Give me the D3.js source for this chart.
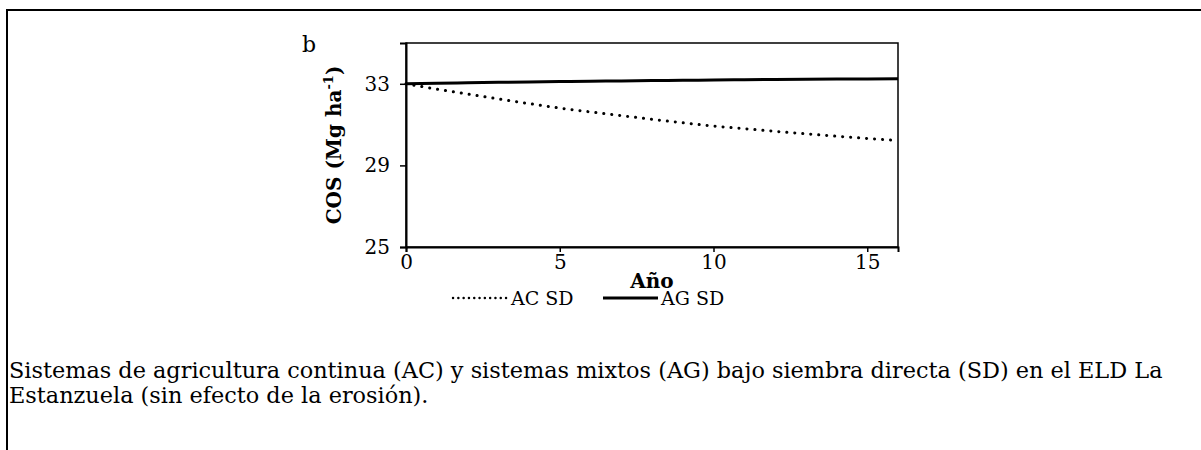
<!DOCTYPE html>
<html><head><meta charset="utf-8">
<script src="https://cdn.jsdelivr.net/npm/d3@7"></script>
<style>body{margin:0;background:#fff}svg{display:block}text{font-family:"DejaVu Serif",serif;fill:#000}</style>
</head><body>
<svg id="c" width="1201" height="450"></svg>
<script>
const years = [0,1,2,3,4,5,6,7,8,9,10,11,12,13,14,15,16];
const acSD = [33.00,32.74,32.50,32.26,32.03,31.81,31.62,31.44,31.26,31.09,30.93,30.80,30.67,30.55,30.43,30.32,30.22];
const agSD = [33.00,33.03,33.05,33.07,33.09,33.11,33.13,33.14,33.16,33.17,33.19,33.20,33.21,33.22,33.23,33.24,33.25];
const xTicks = [0,5,10,15];
const yTicks = [25,29,33];
const seriesNames = ["AC SD","AG SD"];
const panelLabel = "b";
const xTitle = "Año";
const captionLines = ["Sistemas de agricultura continua (AC) y sistemas mixtos (AG) bajo siembra directa (SD) en el ELD La","Estanzuela (sin efecto de la erosión)."];

const svg = d3.select("#c");
svg.append("line").attr("x1",7).attr("x2",1201).attr("y1",10).attr("y2",10).attr("stroke","#000").attr("stroke-width",2);
svg.append("line").attr("x1",7).attr("x2",7).attr("y1",9).attr("y2",450).attr("stroke","#000").attr("stroke-width",2);

const L=406,R=898,T=43,B=247;
const x = d3.scaleLinear().domain([0,16]).range([L,R]);
const y = d3.scaleLinear().domain([25,35]).range([B,T]);

svg.append("rect").attr("x",L).attr("y",T).attr("width",R-L).attr("height",B-T).attr("fill","none").attr("stroke","#000").attr("stroke-width",1.5);

const gx = svg.append("g").attr("transform",`translate(0,${B})`).call(d3.axisBottom(x).tickValues(xTicks).tickSize(5).tickPadding(3).tickFormat(d3.format("d")));
const gy = svg.append("g").attr("transform",`translate(${L},0)`).call(d3.axisLeft(y).tickValues(yTicks).tickSize(6).tickPadding(10).tickFormat(d3.format("d")));
[gx,gy].forEach(g=>{
  g.select(".domain").attr("stroke","#000").attr("stroke-width",2);
  g.selectAll(".tick line").attr("stroke","#000").attr("stroke-width",1.5);
  g.selectAll(".tick text").attr("font-family","DejaVu Serif").attr("font-size",20).attr("fill","#000");
});

const line = d3.line().x((d,i)=>x(years[i])).y(d=>y(d)).curve(d3.curveMonotoneX);
svg.append("path").datum(acSD).attr("d",line).attr("fill","none").attr("stroke","#000").attr("stroke-width",3).attr("stroke-linecap","round").attr("stroke-dasharray","0.1 7.9");
svg.append("path").datum(agSD).attr("d",line).attr("fill","none").attr("stroke","#000").attr("stroke-width",3);

svg.append("text").attr("x",302).attr("y",52).attr("font-size",22).text(panelLabel);

const yt = svg.append("text").attr("transform",`translate(341,${(T+B)/2}) rotate(-90)`).attr("text-anchor","middle").attr("font-size",20).attr("font-weight","bold");
yt.append("tspan").text("COS (Mg ha");
yt.append("tspan").attr("font-size",13).attr("dy",-8).text("-1");
yt.append("tspan").attr("dy",8).text(")");

svg.append("text").attr("x",(L+R)/2).attr("y",288).attr("text-anchor","middle").attr("font-size",20).attr("font-weight","bold").text(xTitle);

const lg = [{x1:453,x2:508,tx:511,dash:"0.1 5.2",w:2.4},{x1:603,x2:658,tx:661,dash:null,w:3}];
lg.forEach((d,i)=>{
  const l = svg.append("line").attr("x1",d.x1).attr("x2",d.x2).attr("y1",298).attr("y2",298).attr("stroke","#000").attr("stroke-width",d.w);
  if(d.dash) l.attr("stroke-dasharray",d.dash).attr("stroke-linecap","round");
  svg.append("text").attr("x",d.tx).attr("y",305).attr("font-size",19).text(seriesNames[i]);
});

const capW = 1154;
let capFs = 20;
captionLines.forEach((t,i)=>{
  const tx = svg.append("text").attr("x",9).attr("y",378+i*25).attr("font-size",20).text(t);
  if(i===0){
    capFs = 20*capW/tx.node().getComputedTextLength();
  }
  tx.attr("font-size",capFs);
});
</script>
</body></html>
